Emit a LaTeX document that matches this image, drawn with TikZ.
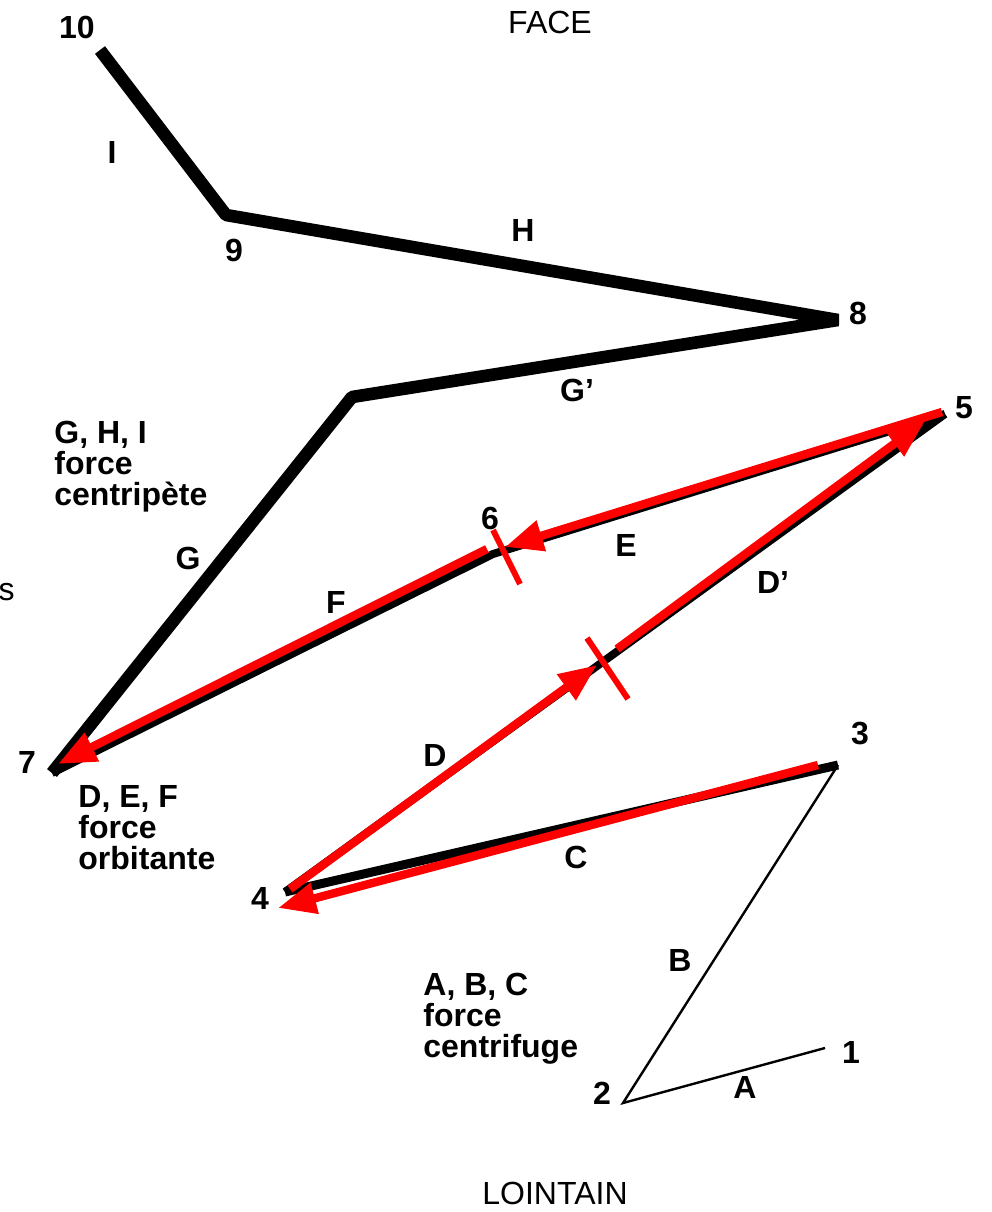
\documentclass[tikz,border=0pt]{standalone}
\usepackage{fontspec}
\setmainfont{Liberation Sans}
\usetikzlibrary{arrows.meta, calc}
\definecolor{arrowred}{RGB}{255, 0, 0}
\tikzset{
  ptlabel/.style={font=\fontsize{16}{16}\selectfont\bfseries, inner sep=0pt},
  seglabel/.style={ptlabel},
  forcetext/.style={align=left, anchor=base west, inner sep=0pt, font=\fontsize{16}{15.5}\selectfont\bfseries},
  sidetext/.style={font=\fontsize{16}{16}\selectfont, inner sep=0pt},
  heavypath/.style={line width=6.3pt, line join=bevel},
  midpath/.style={line width=4pt, line join=bevel},
  thinpath/.style={line width=1.2pt},
  redarrow/.style={-{Triangle[length=19pt,width=15pt]}, line width=4.2pt, arrowred, yshift=1.3pt},
  redtick/.style={line width=3pt, arrowred},
}

\begin{document}
\begin{tikzpicture}[x=0.5pt, y=-0.5pt]
  \useasboundingbox (0,0) rectangle (992,1212);

  % points
  \coordinate (p1) at (825,1048);
  \coordinate (p2) at (623,1103);
  \coordinate (p3) at (838,765);
  \coordinate (p4) at (285,892);
  \coordinate (p5) at (945,414);
  \coordinate (p6) at (493,554);
  \coordinate (p7) at (52,773);
  \coordinate (p8) at (838,320);
  \coordinate (p9) at (226,215);
  \coordinate (p10) at (100,50);
  \coordinate (gcorner) at (352,397);

  % black paths
  \draw[heavypath] (p10) -- (p9) -- (p8) -- (gcorner) -- (p7);
  \draw[midpath] (p7) -- (p6) -- (p5);
  \draw[midpath] (p4) -- (p5);
  \draw[line width=4.5pt] (p3) -- (p4);
  \draw[thinpath] (p3) -- (p2) -- (p1);

  % red arrows
  \coordinate (fstart) at (487,549);
  \coordinate (fend) at (58,764);
  \coordinate (estart) at (942,412);
  \coordinate (eend) at (505,547);
  \coordinate (dstart) at (290,889);
  \coordinate (dend) at (597,665);
  \coordinate (dpstart) at (617,649);
  \coordinate (dpend) at (925,421);
  \coordinate (cstart) at (818,765);
  \coordinate (cend) at (278,908);
  \draw[redarrow] (fstart) -- (fend);
  \draw[redarrow] (estart) -- (eend);
  \draw[redarrow] (dstart) -- (dend);
  \draw[redarrow] (dpstart) -- (dpend);
  \draw[redarrow] (cstart) -- (cend);

  % crossings
  \coordinate (t6a) at (493,530);
  \coordinate (t6b) at (520,584);
  \coordinate (tda) at (587,638);
  \coordinate (tdb) at (628,699);
  \draw[redtick] (t6a) -- (t6b);
  \draw[redtick] (tda) -- (tdb);

  % point labels
  \node[ptlabel] (n10) at (77,27) {10};
  \node[ptlabel] (n9) at (234,250) {9};
  \node[ptlabel] (n8) at (858,313) {8};
  \node[ptlabel] (n7) at (27,762) {7};
  \node[ptlabel] (n6) at (490,518) {6};
  \node[ptlabel] (n5) at (964,408) {5};
  \node[ptlabel] (n4) at (260,898) {4};
  \node[ptlabel] (n3) at (860,733) {3};
  \node[ptlabel] (n2) at (602,1093) {2};
  \node[ptlabel] (n1) at (851,1052) {1};

  % segment labels
  \node[seglabel] (li) at (112,152) {I};
  \node[seglabel] (lh) at (523,230) {H};
  \node[seglabel] (lgp) at (577,390) {G'};
  \node[seglabel] (lg) at (188,558) {G};
  \node[seglabel] (lf) at (336,602) {F};
  \node[seglabel] (le) at (626,545) {E};
  \node[seglabel] (ldp) at (773,582) {D'};
  \node[seglabel] (ld) at (435,755) {D};
  \node[seglabel] (lc) at (576,857) {C};
  \node[seglabel] (lb) at (680,960) {B};
  \node[seglabel] (la) at (745,1087) {A};

  % force texts (base = last line)
  \node[forcetext] (centripete) at (54,505) {G, H, I\\force\\centripète};
  \node[forcetext] (orbitante) at (78,869) {D, E, F\\force\\orbitante};
  \node[forcetext] (centrifuge) at (423,1057) {A, B, C\\force\\centrifuge};

  % sides
  \node[sidetext] (face) at (550,22) {FACE};
  \node[sidetext] (lointain) at (555,1193) {LOINTAIN};
  \node[sidetext, anchor=east] (cut) at (15,592) {s};
\end{tikzpicture}
\end{document}
